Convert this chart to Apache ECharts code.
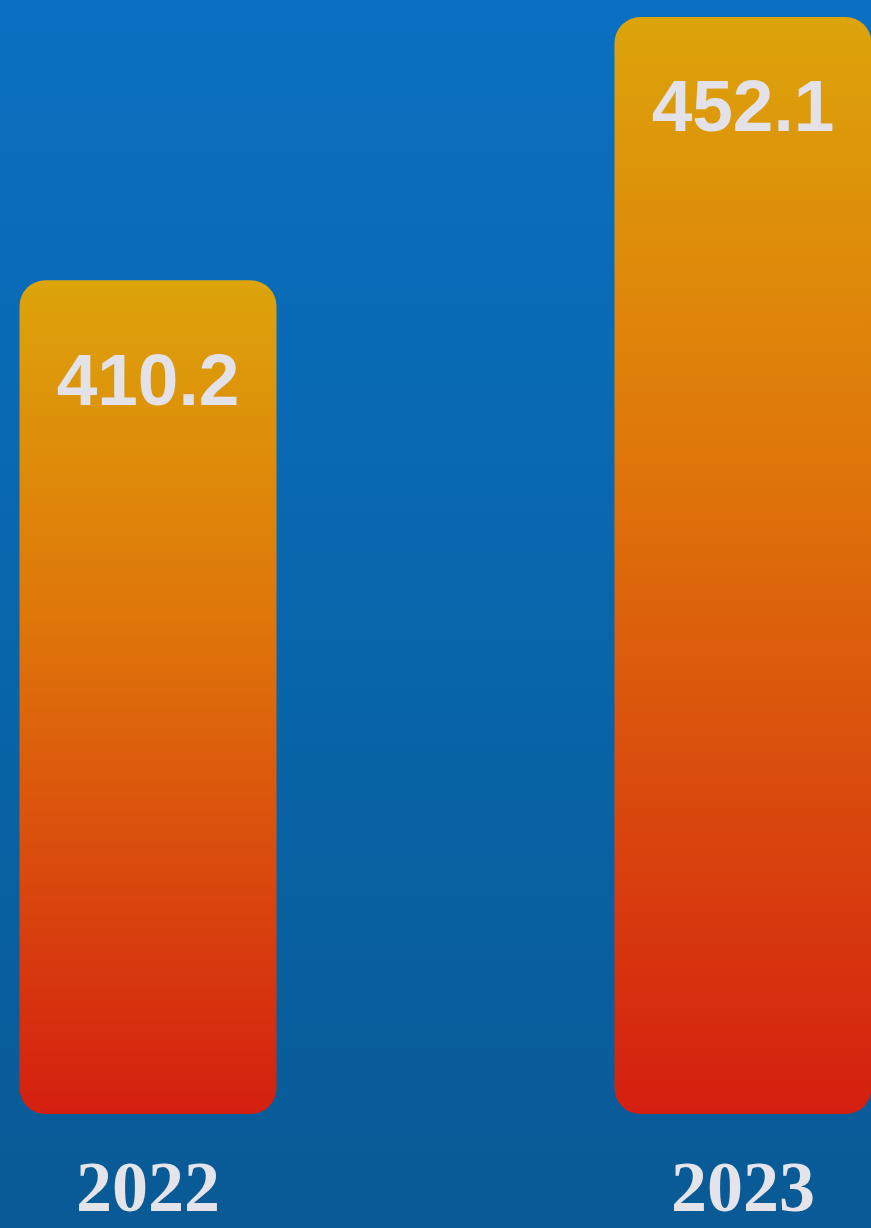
<!DOCTYPE html>
<html>
<head>
<meta charset="utf-8">
<script src="https://cdn.jsdelivr.net/npm/echarts@6/dist/echarts.min.js"></script>
<style>
html,body{margin:0;padding:0;}
#chart{width:871px;height:1228px;}
</style>
</head>
<body>
<div id="chart"></div>
<script>
const categories = ['2022', '2023'];
const values = [410.2, 452.1];

const chart = echarts.init(document.getElementById('chart'), null, {renderer: 'canvas'});
const barGradient = new echarts.graphic.LinearGradient(0, 0, 0, 1, [
  {offset: 0, color: '#dca40a'},
  {offset: 0.4, color: '#df770a'},
  {offset: 1, color: '#d41f10'}
]);
const labelDistances = [68, 57];
chart.setOption({
  backgroundColor: new echarts.graphic.LinearGradient(0, 0, 0, 1, [
    {offset: 0, color: '#0b70c2'},
    {offset: 0.5, color: '#0866ab'},
    {offset: 1, color: '#095a95'}
  ]),
  animation: false,
  grid: {left: 148, right: 128, top: 0, bottom: 107, containLabel: false},
  xAxis: {
    type: 'category',
    data: categories,
    boundaryGap: false,
    axisLine: {show: false},
    axisTick: {show: false},
    splitLine: {show: false},
    axisLabel: {
      color: '#e4e4ea',
      fontFamily: 'Liberation Serif',
      fontWeight: 'bold',
      fontSize: 72,
      margin: 42
    }
  },
  yAxis: {
    type: 'value',
    min: 277.5,
    max: 454.8,
    show: false,
    splitLine: {show: false}
  },
  series: [{
    type: 'bar',
    barWidth: 257,
    data: values.map((v, i) => ({value: v, label: {distance: labelDistances[i]}})),
    itemStyle: {color: barGradient, borderRadius: 26},
    label: {
      show: true,
      position: 'insideTop',
      color: '#e2e2e8',
      fontFamily: 'Liberation Sans',
      fontWeight: 'bold',
      fontSize: 73
    }
  }]
});
</script>
</body>
</html>
